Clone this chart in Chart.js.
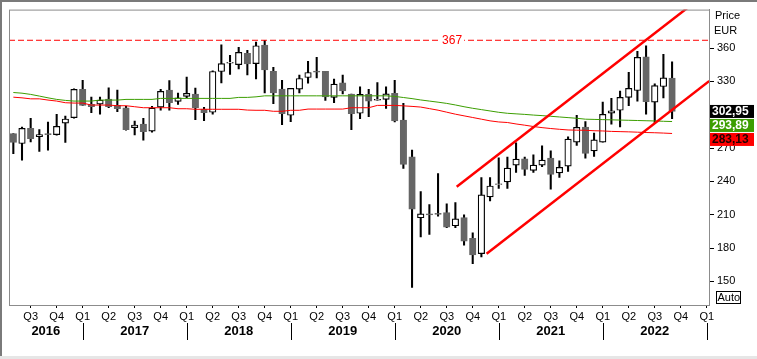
<!DOCTYPE html>
<html>
<head>
<meta charset="utf-8">
<script src="https://cdn.jsdelivr.net/npm/chart.js@4.4.0/dist/chart.umd.min.js"></script>
<style>
  body { margin: 0; background: #fff; }
</style>
</head>
<body>
<canvas id="priceChart" width="757" height="359"></canvas>
<script>
/************************DATA */
// month index: 0 = Jan 2016, first candle is May 2016 (monthly candles)
const firstMonth = 4;
const openArr = [283, 274.1, 287.8, 280.3, 283, 282.1, 292.4, 297.3, 322.8, 309.3,
    309.6, 314.1, 308.4, 306.3, 288.4, 291.7, 285.2, 306.9, 322.1, 312,
    316.5, 318.5, 305.1, 302.2, 338.9, 346.5, 345.1, 355.3, 346, 362.7,
    339.1, 323, 299.5, 323, 333.5, 339.3, 339.1, 315.6, 328.7, 318.5,
    301.3, 318.3, 313.2, 313.8, 319.2, 295.3, 262.1, 207.3, 210.8, 211.3,
    212, 200.1, 207.5, 188.7, 175, 226.1, 237.3, 239.5, 254.7, 260.4,
    249.9, 254.7, 261, 247.6, 253.8, 275.3, 289, 267.5, 275.3, 301.5,
    304, 315.6, 321.8, 352, 311.4, 325.4, 332.9];
const highArr = [283, 289, 296.8, 286.6, 293.5, 300.4, 298.9, 323.3, 331, 315.9,
    315.9, 324.2, 322.1, 307.5, 294.4, 296.8, 307.5, 322.8, 330.8, 319.4,
    333.8, 323.9, 306.6, 339.5, 363, 353.5, 360.6, 357.9, 365.4, 367,
    342.7, 331, 323.7, 335.6, 348.1, 351.7, 339.1, 332, 335.6, 318.5,
    325.1, 322.8, 329, 325.1, 331, 310.2, 268.1, 230.8, 219.2, 247,
    219.8, 221, 209.9, 193.8, 243.4, 243.4, 261.3, 261.9, 274.7, 261.9,
    264, 272, 267.5, 258.6, 280.1, 299.5, 293.8, 283.4, 311.4, 314.7,
    321.2, 338.2, 357, 362.1, 327.8, 354.4, 347.5];
const lowArr = [265, 259.2, 275.6, 266.9, 268.2, 281.6, 275, 296.8, 308.4, 301.8,
    300.4, 306.3, 302.7, 286.1, 281.8, 277.1, 284.3, 304, 304, 309.3,
    315.2, 295.5, 294.6, 300.4, 328.7, 336.2, 341.2, 335.8, 332.2, 319.7,
    309.9, 291, 293.8, 319.7, 328.4, 333.1, 312.9, 310.8, 318.8, 286.6,
    296.4, 298.2, 313, 305.7, 293.5, 251.7, 144.6, 190, 192.4, 208.7,
    198.3, 198.3, 182.7, 166.1, 172, 222.5, 233.8, 233.8, 248.1, 245.4,
    248.1, 253.2, 233, 243.6, 249, 272.3, 261, 262.4, 275.3, 291.4,
    289, 308.1, 312.3, 300.4, 292, 315.2, 296.4];
const closeArr = [275, 287.8, 278.5, 282.1, 282, 289.6, 296.2, 322.8, 308.4, 307.2,
    313.2, 307.2, 305.4, 286.6, 290.8, 284.8, 306, 321, 310.8, 315.2,
    319.2, 306.3, 301.8, 338.9, 346, 347.2, 356.1, 345.7, 362.1, 340.3,
    319.7, 300.9, 323.7, 332.6, 338, 338.3, 316.1, 327.5, 321.5, 300.9,
    318.3, 312.3, 313.8, 318.8, 294.4, 255.3, 215, 210.9, 209.8, 210.3,
    198.9, 206.4, 186.3, 173.8, 227.9, 235.9, 237.8, 252, 260.1, 250.8,
    254.7, 259.2, 246.3, 252.6, 278, 288.7, 265.1, 277.4, 300.4, 303.6,
    315.6, 323.7, 351.7, 311.7, 326.3, 333.1, 302.95];
// moving averages
const maGreen = [320.0, 319.4, 318.3, 316.8, 315.2, 313.8, 312.9, 312.3, 312.3, 312.3,
    313.2, 313.2, 313.2, 313.8, 313.8, 313.8, 313.8, 314.7, 314.7, 314.7,
    314.7, 314.7, 314.7, 314.7, 314.7, 314.7, 315.6, 315.6, 316.1, 317.0,
    317.0, 317.0, 317.0, 317.0, 317.0, 317.0, 317.0, 317.0, 317.0, 317.0,
    317.0, 317.0, 317.0, 317.0, 316.5, 315.5, 314.5, 313.3, 312.3, 311.3,
    310.2, 308.8, 307.2, 305.8, 304.6, 303.4, 302.2, 301.3, 300.8, 300.3,
    299.7, 299.2, 298.6, 298.0, 297.4, 296.8, 296.0, 295.8, 295.6, 295.4,
    295.2, 295.0, 294.8, 294.6, 294.4, 294.1, 293.89];
const maRed = [315.8, 315.2, 314.3, 314.3, 313.2, 312.3, 310.8, 310.5, 310.5, 308.7,
    308.7, 308.7, 308.1, 308.1, 307.2, 306.3, 306.3, 306.3, 306.3, 305.4,
    305.4, 304.9, 304.9, 304.9, 304.9, 304.9, 304.9, 304.2, 304.0, 304.0,
    303.1, 303.1, 304.0, 304.0, 305.1, 305.1, 305.1, 305.1, 305.1, 306.3,
    306.3, 306.3, 308.4, 308.4, 308.4, 308.0, 307.5, 306.9, 305.5, 304.1,
    302.3, 300.5, 299.0, 297.5, 296.0, 294.5, 293.5, 293.0, 291.7, 290.6,
    289.4, 288.4, 287.6, 286.9, 286.3, 286.1, 286.0, 285.6, 285.4, 285.0,
    284.8, 284.6, 284.3, 284.0, 283.8, 283.5, 283.13];
// trend channel (month index, price)
const channelUpper = [[55.15, 235.3], [84.3, 411.4]];
const channelLower = [[58.6, 175], [84.3, 330.4]];
const resistance = 367;
const years = [2016, 2017, 2018, 2019, 2020, 2021, 2022];
const quarterNames = ['Q1', 'Q2', 'Q3', 'Q4'];
const priceTicks = [150, 180, 210, 240, 270, 300, 330, 360];
const xMin = 3.5, xMax = 84.26;
const yMin = 128.8, yMax = 394.6;

const FONT = "'Liberation Sans', Arial, sans-serif";
const GREEN = '#3c9e00';
const RED = '#ff0000';
const GRAY = '#666666';

/************************BUILD */
let monthX = openArr.map((o, i) => firstMonth + i);
let isUp = openArr.map((o, i) => closeArr[i] >= o);
let wickData = monthX.map((x, i) => ({ x: x, y: [lowArr[i], highArr[i]] }));
let bodyData = monthX.map((x, i) => ({ x: x, y: [openArr[i], closeArr[i]] }));
let greenData = monthX.map((x, i) => ({ x: x, y: maGreen[i] }));
let redData = monthX.map((x, i) => ({ x: x, y: maRed[i] }));

// extra drawing: frame, year row, value boxes, captions
const decoPlugin = {
    id: 'deco',
    afterDraw: (chart) => {
        const ctx = chart.ctx;
        const a = chart.chartArea;
        const xs = chart.scales.x;
        const ys = chart.scales.y;
        ctx.save();
        // plot frame
        ctx.strokeStyle = '#8c8c8c';
        ctx.lineWidth = 1;
        ctx.strokeRect(a.left + 0.5, a.top + 0.5, a.right - a.left, a.bottom - a.top);
        // outer frame
        ctx.strokeStyle = '#7a7a7a';
        ctx.lineWidth = 2;
        ctx.beginPath();
        ctx.moveTo(1, chart.height);
        ctx.lineTo(1, 1);
        ctx.lineTo(chart.width, 1);
        ctx.stroke();
        ctx.fillStyle = '#e6e6e6';
        ctx.fillRect(0, chart.height - 3, chart.width, 3);

        // year labels + dividers
        ctx.fillStyle = '#000';
        ctx.font = 'bold 13px ' + FONT;
        ctx.textAlign = 'center';
        ctx.textBaseline = 'middle';
        years.forEach((yr) => {
            let m0 = (yr - 2016) * 12;
            let left = Math.max(xs.getPixelForValue(m0), a.left);
            let right = Math.min(xs.getPixelForValue(m0 + 12), a.right);
            ctx.fillText(String(yr), (left + right) / 2, 331);
            let dx = Math.round(xs.getPixelForValue(m0 + 12)) + 0.5;
            ctx.strokeStyle = '#000';
            ctx.lineWidth = 1;
            ctx.beginPath();
            ctx.moveTo(dx, 323);
            ctx.lineTo(dx, 340);
            ctx.stroke();
        });

        // 367 label
        ctx.font = '12px ' + FONT;
        let lx = a.left + (a.right - a.left) * 0.633;
        let ly = ys.getPixelForValue(resistance);
        ctx.fillStyle = '#fff';
        ctx.fillRect(lx - 12, ly - 6, 24, 12);
        ctx.fillStyle = RED;
        ctx.fillText(String(resistance), lx, ly + 0.5);

        // last value boxes
        let boxes = [
            { v: closeArr[closeArr.length - 1], bg: '#000', fg: '#fff' },
            { v: maGreen[maGreen.length - 1], bg: GREEN, fg: '#fff' },
            { v: maRed[maRed.length - 1], bg: RED, fg: '#200' }
        ];
        let h = 13;
        let prevBottom = -Infinity;
        ctx.font = 'bold 12px ' + FONT;
        ctx.textAlign = 'left';
        boxes.forEach((b) => {
            let top = ys.getPixelForValue(b.v) - h / 2;
            if (top < prevBottom + 1) top = prevBottom + 1;
            ctx.fillStyle = b.bg;
            ctx.fillRect(a.right + 1, top, 44, h);
            ctx.fillStyle = b.fg;
            ctx.fillText(b.v.toFixed(2).replace('.', ','), a.right + 3, top + h / 2 + 0.5);
            prevBottom = top + h;
        });

        // axis captions
        ctx.fillStyle = '#000';
        ctx.font = '11px ' + FONT;
        ctx.fillText('Price', 715, 16);
        ctx.fillText('EUR', 714, 31);
        ctx.strokeStyle = '#000';
        ctx.lineWidth = 1;
        ctx.strokeRect(716.5, 291.5, 24, 12);
        ctx.fillText('Auto', 717.5, 298);
        ctx.restore();
    }
};

/************************CHART */
let priceChart;
drawPriceChart = () => {
    if (priceChart != undefined) {
        priceChart.destroy();
    }
    let ctx = document.getElementById('priceChart').getContext('2d');
    priceChart = new Chart(ctx, {
        type: 'bar',
        data: {
            datasets: [{
                type: 'line',
                data: [{ x: channelUpper[0][0], y: channelUpper[0][1] }, { x: channelUpper[1][0], y: channelUpper[1][1] }],
                borderColor: RED,
                borderWidth: 2.5,
                pointRadius: 0,
                order: 0
            }, {
                type: 'line',
                data: [{ x: channelLower[0][0], y: channelLower[0][1] }, { x: channelLower[1][0], y: channelLower[1][1] }],
                borderColor: RED,
                borderWidth: 2.5,
                pointRadius: 0,
                order: 0
            }, {
                type: 'line',
                data: [{ x: xMin, y: resistance }, { x: xMax, y: resistance }],
                borderColor: RED,
                borderWidth: 1,
                borderDash: [6, 3],
                pointRadius: 0,
                order: 1
            }, {
                type: 'line',
                data: greenData,
                borderColor: GREEN,
                borderWidth: 1,
                pointRadius: 0,
                order: 1
            }, {
                type: 'line',
                data: redData,
                borderColor: RED,
                borderWidth: 1,
                pointRadius: 0,
                order: 1
            }, {
                data: bodyData,
                grouped: false,
                barThickness: 6.5,
                backgroundColor: isUp.map(u => u ? '#ffffff' : GRAY),
                borderColor: isUp.map(u => u ? '#000000' : GRAY),
                borderWidth: 1.2,
                borderSkipped: false,
                order: 2
            }, {
                data: wickData,
                grouped: false,
                barThickness: 1.4,
                backgroundColor: '#000',
                borderWidth: 0,
                order: 3
            }]
        },
        options: {
            responsive: false,
            animation: false,
            layout: { padding: { left: 9, top: 8, right: 0, bottom: 0 } },
            plugins: {
                legend: { display: false },
                tooltip: { enabled: false }
            },
            scales: {
                x: {
                    type: 'linear',
                    min: xMin,
                    max: xMax,
                    offset: false,
                    afterBuildTicks: (scale) => {
                        let t = [];
                        for (let m = 6; m <= 84; m += 3) t.push({ value: m });
                        scale.ticks = t;
                    },
                    afterFit: (scale) => { scale.height = 54; },
                    ticks: {
                        autoSkip: false,
                        maxRotation: 0,
                        padding: 2,
                        color: '#000',
                        font: { family: FONT, size: 11 },
                        callback: (v) => quarterNames[(v % 12) / 3]
                    },
                    grid: { drawOnChartArea: false, offset: false, tickLength: 3, color: '#000' },
                    border: { color: '#8c8c8c' }
                },
                y: {
                    position: 'right',
                    min: yMin,
                    max: yMax,
                    afterBuildTicks: (scale) => {
                        scale.ticks = priceTicks.map(v => ({ value: v }));
                    },
                    afterFit: (scale) => { scale.width = 48; },
                    ticks: {
                        padding: 3,
                        color: '#000',
                        font: { family: FONT, size: 11 }
                    },
                    grid: { drawOnChartArea: false, tickLength: 5, color: '#000' },
                    border: { color: '#8c8c8c' }
                }
            }
        },
        plugins: [decoPlugin]
    });
};

drawPriceChart();
</script>
</body>
</html>
